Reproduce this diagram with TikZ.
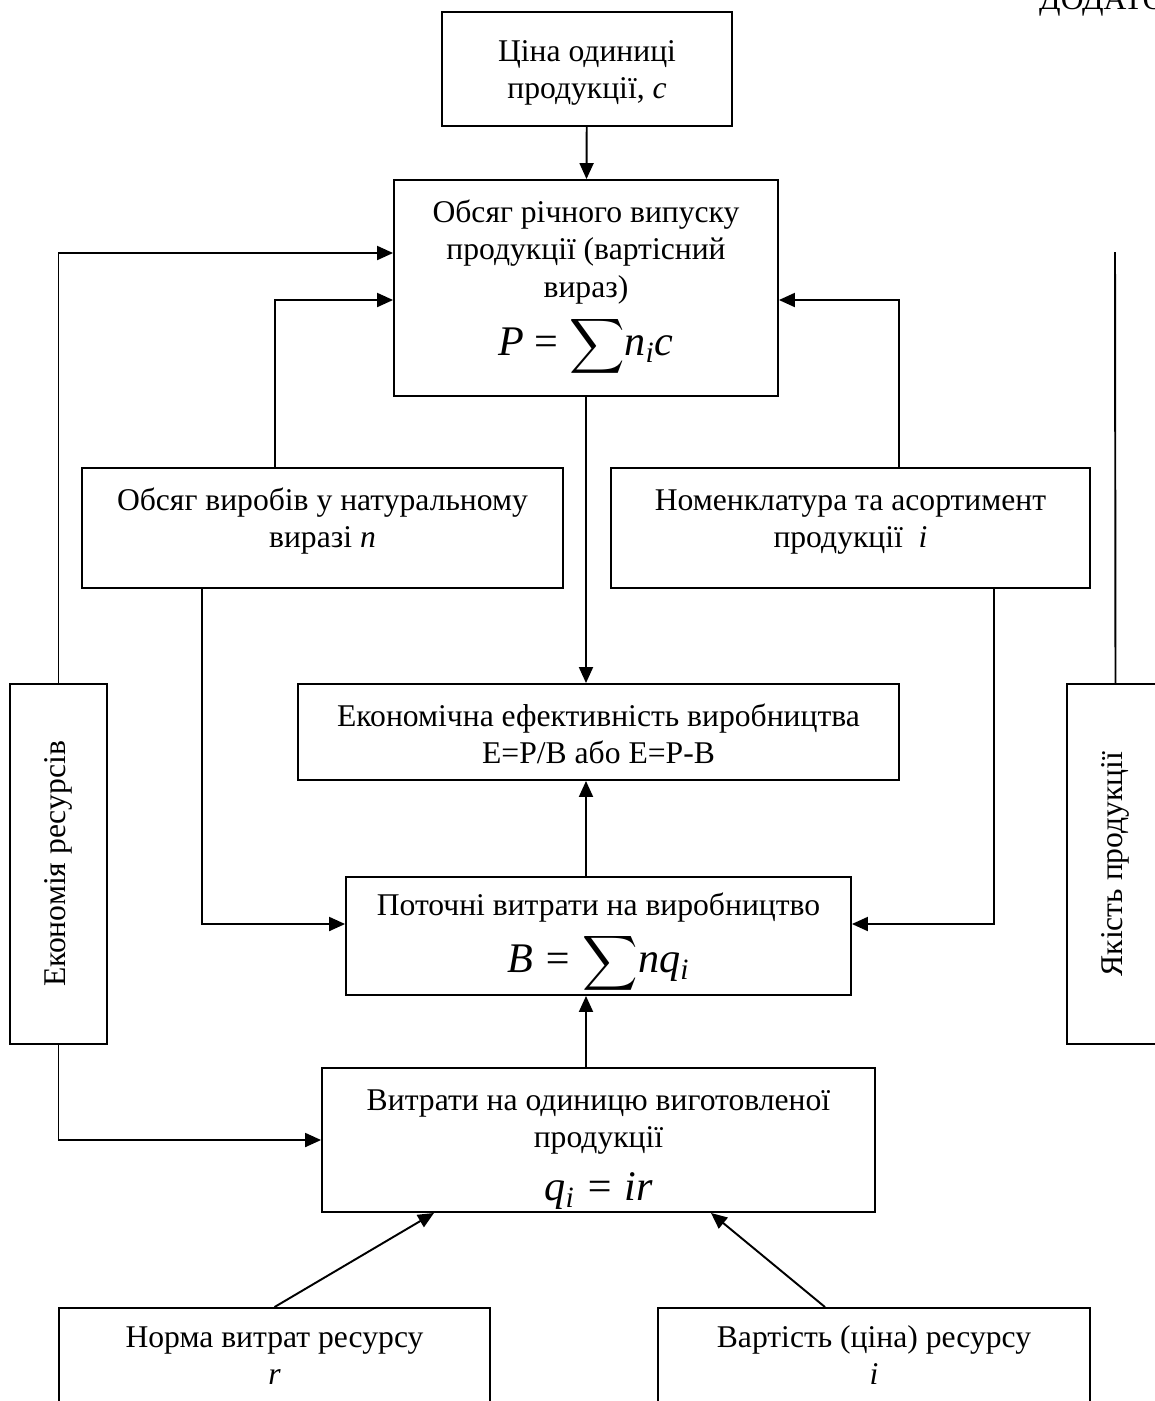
\documentclass[tikz,border=0pt]{standalone}
\usepackage{amsmath}
\usepackage{fontspec}
\setmainfont{Liberation Serif}
\usetikzlibrary{arrows.meta, positioning}

\newcommand{\tekst}{\fontsize{18}{21.5}\selectfont}
\newcommand{\formula}{\fontsize{24}{30}\selectfont}
\newcommand{\suma}{\scalebox{0.88}{$\displaystyle\sum$}}
% box contents: [first baseline] {width} {height} {text}
\newcommand{\korobka}[4][0.84cm]{\parbox[c][#3][t]{#2}{\centering\tekst\rule{0pt}{#1}#4\par}}

\begin{document}
\begin{tikzpicture}[
	x=0.02cm, y=-0.02cm,
	blok/.style={draw, line width=1.1pt, inner sep=0pt},
	strilka/.style={-{Triangle[length=0.32cm, width=0.28cm]}, line width=1.1pt},
	liniya/.style={line width=1.1pt}
	]
	\useasboundingbox (0,0) rectangle (1155,1401);
	
	\node[anchor=base west, font=\tekst] (dodatok) at (1033,9) {ДОДАТО};
	
	% top part
	\node[blok] (cina) at (587,69)
	{\korobka[0.98cm]{5.8cm}{2.28cm}{Ціна одиниці\\продукції, \textit{c}}};
	
	\node[blok] (obsyag) at (586,288)
	{\korobka{7.68cm}{4.32cm}{Обсяг річного випуску\\продукції (вартісний\\вираз)\par\vspace{3pt}
			{\formula\textit{P} = \suma\textit{n}\textsubscript{\textit{i}}\textit{c}\par}}};
	
	\node[blok] (naturv) at (322.5,528)
	{\korobka{9.62cm}{2.4cm}{Обсяг виробів у натуральному\\виразі \textit{n}}};
	
	\node[blok] (nomenk) at (850.5,528)
	{\korobka{9.58cm}{2.4cm}{Номенклатура та асортимент\\продукції\ \ \textit{i}}};
	
	% middle part
	\node[blok] (efekt) at (598.5,732)
	{\korobka{12.02cm}{1.92cm}{Економічна ефективність виробництва\\E=P/B або E=P-B}};
	
	\node[blok] (potochni) at (598.5,936)
	{\korobka[0.76cm]{10.1cm}{2.36cm}{Поточні витрати на виробництво\par\vspace{3pt}
			{\formula\itshape B = \suma nq\textsubscript{i}\par}}};
	
	\node[blok] (vytraty) at (598.5,1140)
	{\korobka{11.06cm}{2.88cm}{Витрати на одиницю виготовленої\\продукції\par
			{\formula\itshape q\textsubscript{i} = ir\par}}};
	
	\node[blok, minimum width=1.94cm, minimum height=7.2cm] (ekonres) at (58.5,864)
	{\rotatebox{90}{\tekst Економія ресурсів}};
	
	\node[blok, minimum width=1.94cm, minimum height=7.2cm] (yakist) at (1115.5,864)
	{\rotatebox{90}{\tekst Якість продукції}};
	
	% bottom part
	\node[blok] (norma) at (274.5,1368)
	{\korobka[0.78cm]{8.62cm}{2.4cm}{Норма витрат ресурсу\\\textit{r}}};
	
	\node[blok] (vartist) at (874,1368)
	{\korobka[0.78cm]{8.64cm}{2.4cm}{Вартість (ціна) ресурсу\\\textit{i}}};
	
	% arrows
	\draw[strilka] (cina) -- (obsyag);
	\draw[strilka] (ekonres.north) |- (obsyag.west |- 0,253);
	\draw[strilka] (275,0 |- naturv.north) |- (obsyag.west |- 0,300);
	\draw[strilka] (899,0 |- nomenk.north) |- (obsyag.east |- 0,300);
	\draw[strilka] (obsyag.south) -- (obsyag.south |- efekt.north);
	\draw[strilka] (obsyag.south |- potochni.north) -- (obsyag.south |- efekt.south);
	\draw[strilka] (202,0 |- naturv.south) |- (potochni.west |- 0,924);
	\draw[strilka] (994,0 |- nomenk.south) |- (potochni.east |- 0,924);
	\draw[strilka] (obsyag.south |- vytraty.north) -- (obsyag.south |- potochni.south);
	\draw[strilka] (ekonres.south) |- (vytraty.west);
	\draw[strilka] (norma.north) -- (434,0 |- vytraty.south);
	\draw[strilka] (825,0 |- vartist.north) -- (711,0 |- vytraty.south);
	
	\coordinate (yakverh) at (1115,252);
	\draw[liniya] (yakist.north) -- (yakverh);
	
\end{tikzpicture}
\end{document}
